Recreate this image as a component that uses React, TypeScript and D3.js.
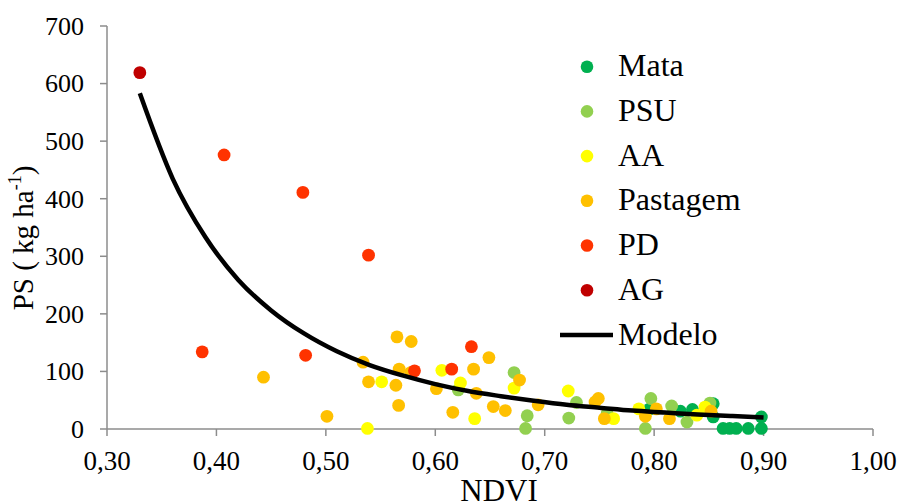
import React from "react";
import * as d3 from "d3";

const W = 897;
const H = 502;

const xTicks = [0.3, 0.4, 0.5, 0.6, 0.7, 0.8, 0.9, 1.0];
const yTicks = [0, 100, 200, 300, 400, 500, 600, 700];

const seriesNames = ["Mata", "PSU", "AA", "Pastagem", "PD", "AG"];
const seriesColors = ["#00B050", "#92D050", "#FFFF00", "#FFC000", "#FF3300", "#C00000"];

const mataNdvi = [0.796, 0.824, 0.835, 0.854, 0.854, 0.898, 0.863, 0.869, 0.875, 0.886, 0.898];
const mataPs = [35, 31, 34, 44, 21, 21, 1, 1, 1, 1, 1];

const psuNdvi = [0.621, 0.672, 0.684, 0.6825, 0.729, 0.722, 0.757, 0.797, 0.792, 0.816, 0.83, 0.851];
const psuPs = [68, 98, 23, 1, 46, 19, 27, 53, 1, 40, 12, 45];

const aaNdvi = [0.538, 0.551, 0.606, 0.623, 0.636, 0.672, 0.7215, 0.763, 0.786, 0.839, 0.8465];
const aaPs = [1, 82, 102, 80, 18, 71, 66, 18, 35, 24, 38];

const pastNdvi = [0.443, 0.501, 0.534, 0.539, 0.564, 0.565, 0.5665, 0.567, 0.5775, 0.578, 0.601, 0.616, 0.635, 0.6375, 0.649, 0.653, 0.664, 0.677, 0.694, 0.746, 0.749, 0.7545, 0.792, 0.802, 0.814, 0.852];
const pastPs = [90, 22, 116, 82, 76, 160, 41, 104, 98, 152, 70, 29, 104, 62, 124, 39, 32, 85, 42, 47, 53, 18, 22, 35, 18, 31];

const pdNdvi = [0.387, 0.407, 0.479, 0.4815, 0.539, 0.581, 0.615, 0.633];
const pdPs = [134, 476, 411, 128, 302, 101, 104, 143];

const agNdvi = [0.33];
const agPs = [619];

const modelNdvi = [0.33, 0.36, 0.39, 0.42, 0.45, 0.48, 0.51, 0.54, 0.57, 0.6, 0.63, 0.66, 0.69, 0.72, 0.75, 0.78, 0.81, 0.84, 0.87, 0.9];
const modelPs = [583, 435, 333, 259, 206, 166, 135, 111, 93, 78, 66, 57, 49, 42, 37, 32, 28.5, 25, 22.5, 20];

const seriesX = [mataNdvi, psuNdvi, aaNdvi, pastNdvi, pdNdvi, agNdvi];
const seriesY = [mataPs, psuPs, aaPs, pastPs, pdPs, agPs];

const FONT = "'Liberation Serif', 'Times New Roman', serif";

export default function App() {
  const x = d3.scaleLinear().domain([0.3, 1.0]).range([107, 873]);
  const y = d3.scaleLinear().domain([0, 700]).range([429, 26]);
  const axisColor = "#8C8C8C";
  const fmt = (v: number) => v.toFixed(2).replace(".", ",");

  const line = d3
    .line<number>()
    .x((_, i) => x(modelNdvi[i]))
    .y((d) => y(d))
    .curve(d3.curveMonotoneX);

  const legendX = 587;
  const legendY0 = 66.7;
  const legendStep = 44.7;

  return (
    <div style={{ position: "fixed", left: 0, top: 0 }}>
      <svg width={W} height={H} style={{ display: "block", background: "#fff" }} fontFamily={FONT}>
        {/* y axis */}
        <line x1={107} x2={107} y1={y(700)} y2={y(0)} stroke={axisColor} strokeWidth={1.5} />
        {yTicks.map((t) => (
          <g key={"y" + t}>
            <line x1={100} x2={107} y1={y(t)} y2={y(t)} stroke={axisColor} strokeWidth={1.5} />
            <text x={84} y={y(t)} dy="0.34em" textAnchor="end" fontSize={26} fill="#000">
              {t}
            </text>
          </g>
        ))}
        {/* x axis */}
        <line x1={x(0.3)} x2={x(1.0)} y1={429} y2={429} stroke={axisColor} strokeWidth={1.5} />
        {xTicks.map((t) => (
          <g key={"x" + t}>
            <line x1={x(t)} x2={x(t)} y1={429} y2={436} stroke={axisColor} strokeWidth={1.5} />
            <text x={x(t)} y={470} textAnchor="middle" fontSize={27} fill="#000">
              {fmt(t)}
            </text>
          </g>
        ))}
        {/* axis titles */}
        <text x={499} y={501} textAnchor="middle" fontSize={31} fill="#000">
          NDVI
        </text>
        <text
          transform={`translate(33,238) rotate(-90)`}
          textAnchor="middle"
          fontSize={29}
          fill="#000"
        >
          PS ( kg ha
          <tspan fontSize={18} dy={-12}>-1</tspan>
          <tspan dy={12}>)</tspan>
        </text>

        {/* points */}
        {seriesX.map((xs, si) =>
          xs.map((v, i) => (
            <circle
              key={si + "-" + i}
              cx={x(v)}
              cy={y(seriesY[si][i])}
              r={6.4}
              fill={seriesColors[si]}
            />
          ))
        )}

        {/* model */}
        <path d={line(modelPs) || ""} fill="none" stroke="#000" strokeWidth={4.5} strokeLinejoin="round" />

        {/* legend */}
        {seriesNames.map((n, i) => (
          <g key={n}>
            <circle cx={legendX} cy={legendY0 + i * legendStep} r={6.3} fill={seriesColors[i]} />
            <text x={618} y={legendY0 + i * legendStep + 9.5} fontSize={32} fill="#000">
              {n}
            </text>
          </g>
        ))}
        <line x1={560} x2={613} y1={335} y2={335} stroke="#000" strokeWidth={4.5} />
        <text x={618} y={335 + 9.5} fontSize={32} fill="#000">
          Modelo
        </text>
      </svg>
    </div>
  );
}
